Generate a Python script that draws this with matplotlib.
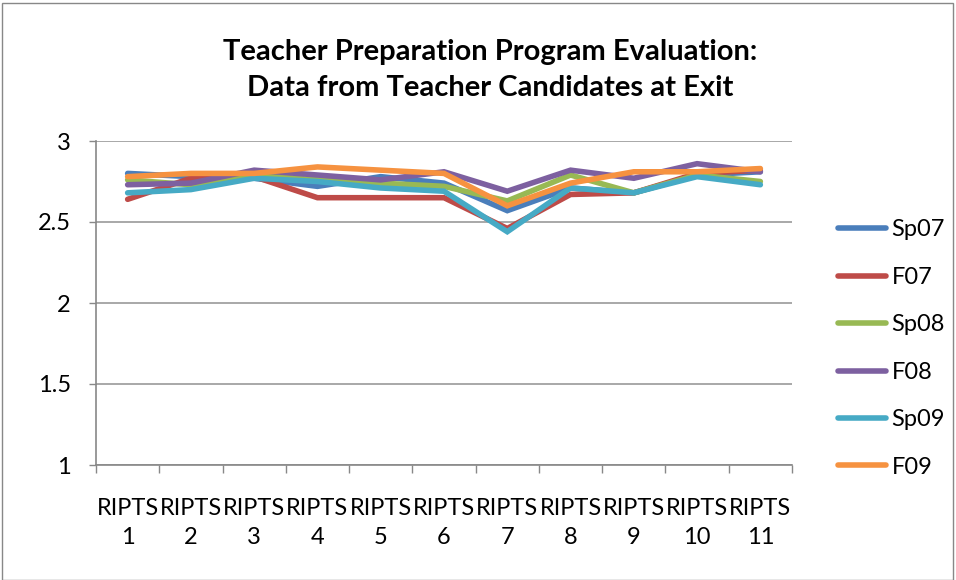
import numpy as np
import matplotlib
matplotlib.use('Agg')
import matplotlib.pyplot as plt
from matplotlib.patches import Rectangle

plt.rcParams['font.family'] = ['Lato', 'DejaVu Sans']

categories = ['RIPTS\n%d' % i for i in range(1, 12)]
series_names = ['Sp07', 'F07', 'Sp08', 'F08', 'Sp09', 'F09']
sp07 = [2.80, 2.78, 2.77, 2.72, 2.78, 2.74, 2.57, 2.71, 2.68, 2.79, 2.81]
f07  = [2.64, 2.77, 2.78, 2.65, 2.65, 2.65, 2.46, 2.67, 2.68, 2.80, 2.82]
sp08 = [2.76, 2.73, 2.79, 2.76, 2.74, 2.72, 2.63, 2.79, 2.68, 2.79, 2.75]
f08  = [2.73, 2.74, 2.82, 2.79, 2.76, 2.81, 2.69, 2.82, 2.77, 2.86, 2.81]
sp09 = [2.68, 2.70, 2.77, 2.75, 2.71, 2.69, 2.44, 2.71, 2.68, 2.78, 2.73]
f09  = [2.78, 2.80, 2.80, 2.84, 2.82, 2.80, 2.60, 2.74, 2.81, 2.81, 2.83]
colors = ['#4a7ebb', '#be4b48', '#98b954', '#7d60a0', '#46aac5', '#f69240']
yticks = [1, 1.5, 2, 2.5, 3]

W, H = 956, 580
fig = plt.figure(figsize=(W/100, H/100), dpi=100)
fig.patches.append(Rectangle((2/W, 0), 951/W, 577/H, transform=fig.transFigure,
                             fill=False, ec='#888888', lw=1.0))

ax = fig.add_axes([96/W, (H-465)/H, 696/W, 324/H])
x = np.arange(len(categories))
for name, vals, c in zip(series_names, [sp07, f07, sp08, f08, sp09, f09], colors):
    ax.plot(x, vals, color=c, lw=4, solid_capstyle='round', solid_joinstyle='miter', label=name)

ax.set_xlim(-0.5, len(categories) - 0.5)
ax.set_ylim(1, 3)
ax.set_yticks(yticks)
ax.set_yticklabels(['1', '1.5', '2', '2.5', '3'])
ax.set_xticks(x)
ax.set_xticklabels(categories, linespacing=1.45)
ax.set_xticks(np.arange(-0.5, len(categories)), minor=True)
ax.tick_params(axis='x', which='major', length=0, pad=24, labelsize=17)
ax.tick_params(axis='x', which='minor', length=6, color='#888888', width=1)
ax.tick_params(axis='y', length=5, color='#888888', width=1, labelsize=17, pad=13)
ax.grid(axis='y', color='#9a9a9a', lw=1.2)
ax.set_axisbelow(True)
for s in ['top', 'right']:
    ax.spines[s].set_visible(False)
for s in ['left', 'bottom']:
    ax.spines[s].set_color('#888888')
    ax.spines[s].set_linewidth(1.2)

fig.text(490/W, 1 - 70/H, 'Teacher Preparation Program Evaluation:\nData from Teacher Candidates at Exit',
         ha='center', va='center', fontsize=21, fontweight='bold', linespacing=1.5)

leg = ax.legend(loc='upper left', bbox_to_anchor=((829 - 96)/696, (465 - 210)/324),
                frameon=False, fontsize=17, handlelength=2.0, labelspacing=1.12,
                handletextpad=0.25, borderaxespad=0)

fig.savefig('out.png', dpi=100)
